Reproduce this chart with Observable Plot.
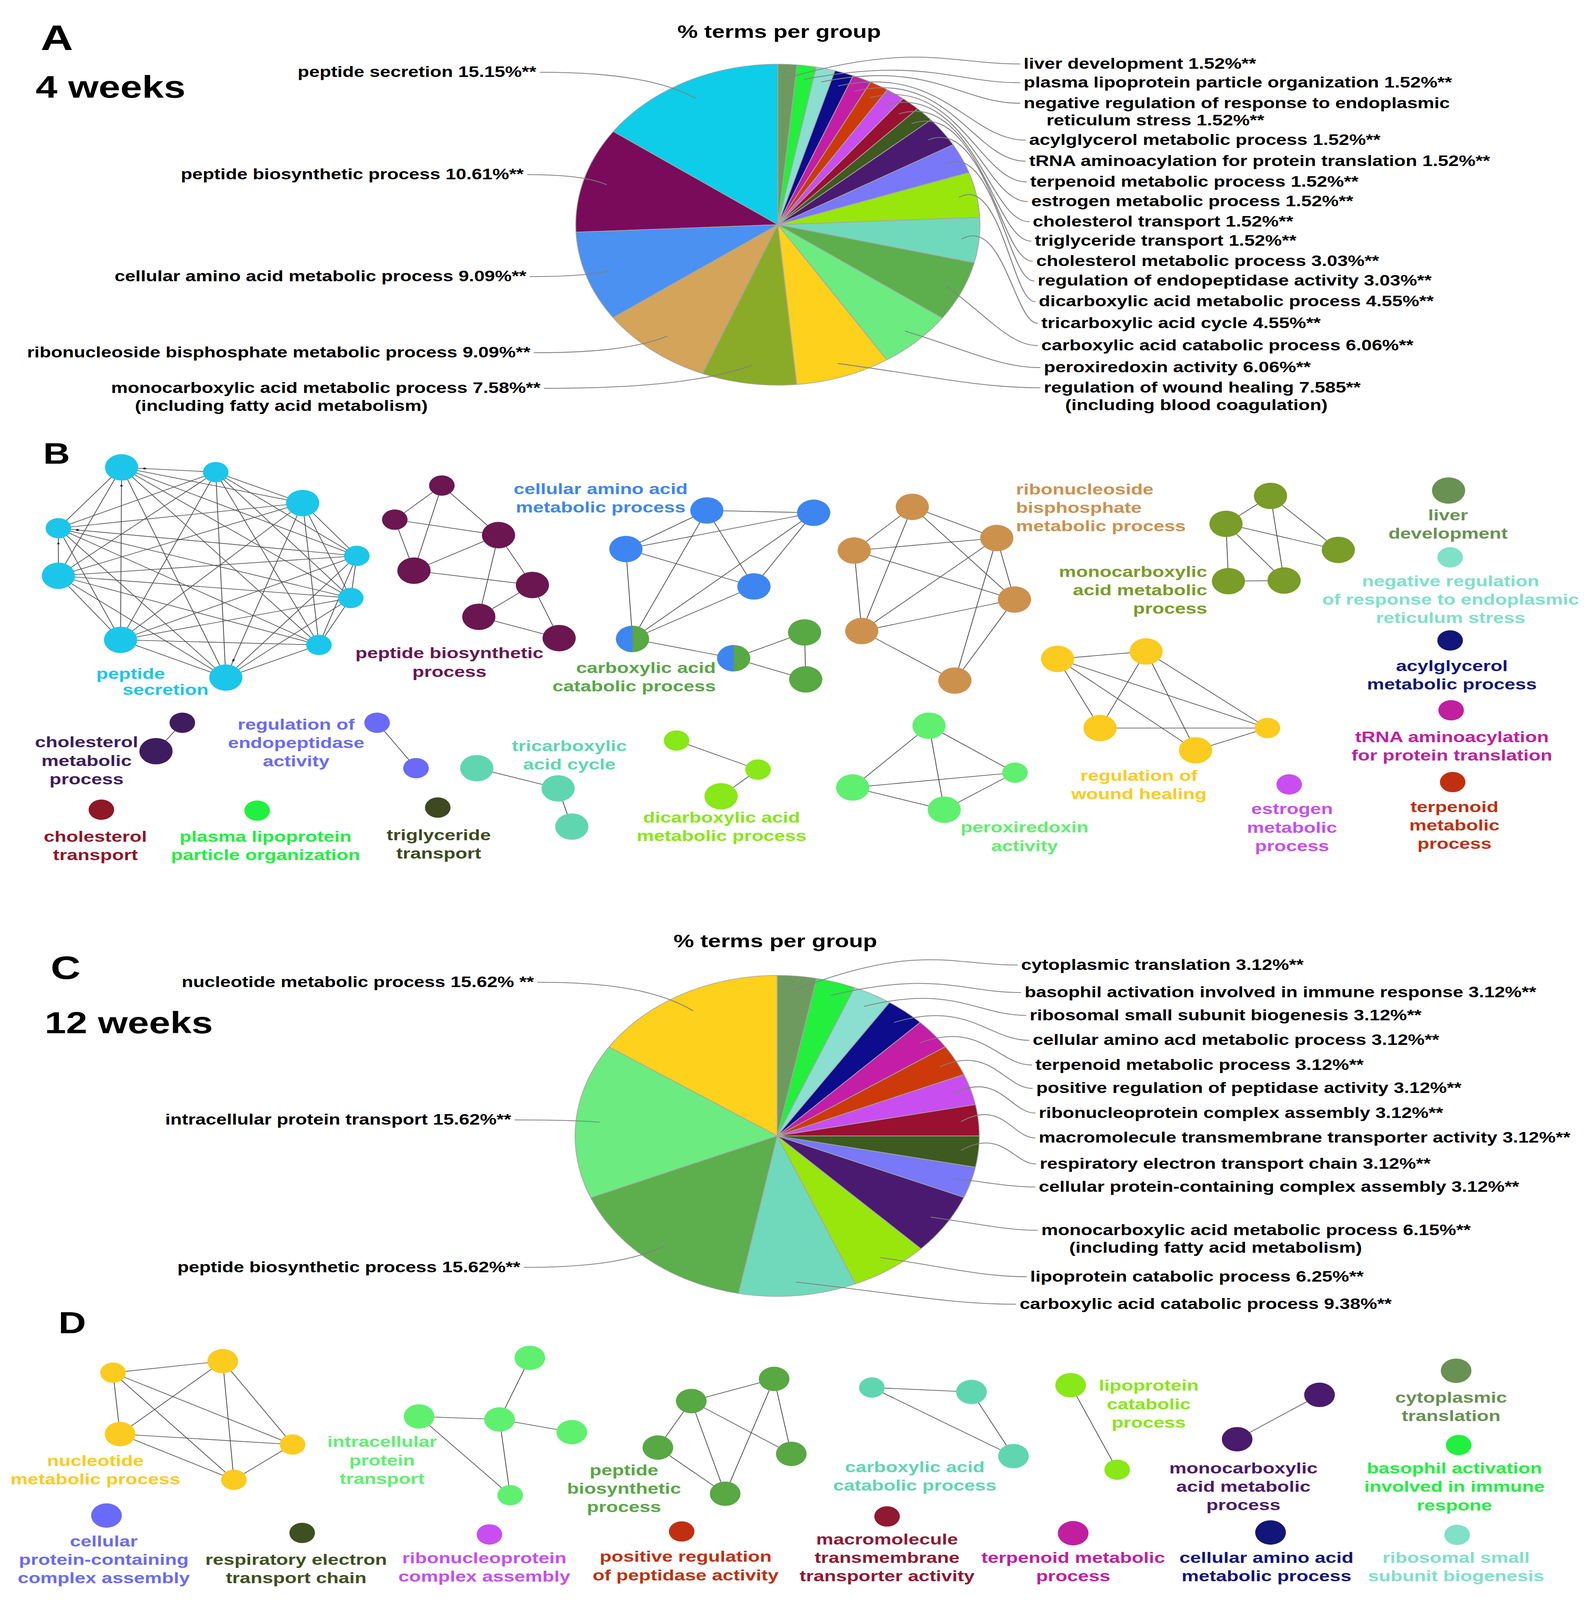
<!DOCTYPE html>
<html><head><meta charset="utf-8">
<script src="https://cdn.jsdelivr.net/npm/d3@7"></script>
<script src="https://cdn.jsdelivr.net/npm/@observablehq/plot@0.6"></script>
<style>
html,body{margin:0;padding:0;background:#fff;overflow:hidden;}
#chart svg{display:block;}
</style></head>
<body><div id="chart"></div>
<script>
// ================= DATA =================
// Panel A – 4 weeks: % terms per group (clockwise from 12 o'clock)
const weeks4Terms = [
  "liver development","plasma lipoprotein particle organization",
  "negative regulation of response to endoplasmic reticulum stress",
  "acylglycerol metabolic process","tRNA aminoacylation for protein translation",
  "terpenoid metabolic process","estrogen metabolic process","cholesterol transport",
  "triglyceride transport","cholesterol metabolic process","regulation of endopeptidase activity",
  "dicarboxylic acid metabolic process","tricarboxylic acid cycle","carboxylic acid catabolic process",
  "peroxiredoxin activity","regulation of wound healing","monocarboxylic acid metabolic process",
  "ribonucleoside bisphosphate metabolic process","cellular amino acid metabolic process",
  "peptide biosynthetic process","peptide secretion"];
const weeks4Percent = [1.52,1.52,1.52,1.52,1.52,1.52,1.52,1.52,1.52,3.03,3.03,4.55,4.55,6.06,6.06,7.585,7.58,9.09,9.09,10.61,15.15];
const weeks4Labels = [
  "liver development 1.52%**","plasma lipoprotein particle organization 1.52%**",
  "negative regulation of response to endoplasmic","acylglycerol metabolic process 1.52%**",
  "tRNA aminoacylation for protein translation 1.52%**","terpenoid metabolic process 1.52%**",
  "estrogen metabolic process 1.52%**","cholesterol transport 1.52%**","triglyceride transport 1.52%**",
  "cholesterol metabolic process 3.03%**","regulation of endopeptidase activity 3.03%**",
  "dicarboxylic acid metabolic process 4.55%**","tricarboxylic acid cycle 4.55%**",
  "carboxylic acid catabolic process 6.06%**","peroxiredoxin activity 6.06%**",
  "regulation of wound healing 7.585**","monocarboxylic acid metabolic process 7.58%**",
  "ribonucleoside bisphosphate metabolic process 9.09%**","cellular amino acid metabolic process 9.09%**",
  "peptide biosynthetic process 10.61%**","peptide secretion 15.15%**"];
const weeks4SecondLines = ["reticulum stress 1.52%**","(including blood coagulation)","(including fatty acid metabolism)"];

// Panel C – 12 weeks
const weeks12Terms = [
  "cytoplasmic translation","basophil activation involved in immune response",
  "ribosomal small subunit biogenesis","cellular amino acd metabolic process",
  "terpenoid metabolic process","positive regulation of peptidase activity",
  "ribonucleoprotein complex assembly","macromolecule transmembrane transporter activity",
  "respiratory electron transport chain","cellular protein-containing complex assembly",
  "monocarboxylic acid metabolic process","lipoprotein catabolic process",
  "carboxylic acid catabolic process","peptide biosynthetic process",
  "intracellular protein transport","nucleotide metabolic process"];
const weeks12Percent = [3.12,3.12,3.12,3.12,3.12,3.12,3.12,3.12,3.12,3.12,6.15,6.25,9.38,15.62,15.62,15.62];
const weeks12Labels = [
  "cytoplasmic translation 3.12%**","basophil activation involved in immune response 3.12%**",
  "ribosomal small subunit biogenesis 3.12%**","cellular amino acd metabolic process 3.12%**",
  "terpenoid metabolic process 3.12%**","positive regulation of peptidase activity 3.12%**",
  "ribonucleoprotein complex assembly 3.12%**","macromolecule transmembrane transporter activity 3.12%**",
  "respiratory electron transport chain 3.12%**","cellular protein-containing complex assembly 3.12%**",
  "monocarboxylic acid metabolic process 6.15%**","lipoprotein catabolic process 6.25%**",
  "carboxylic acid catabolic process 9.38%**","peptide biosynthetic process 15.62%**",
  "intracellular protein transport 15.62%**","nucleotide metabolic process 15.62% **"];
const weeks12SecondLines = ["(including fatty acid metabolism)"];

// Panel B – network of enriched terms (4 weeks)
const bNodes = [
  ["ps1","peptide secretion"],["ps2","peptide secretion"],["ps3","peptide secretion"],["ps4","peptide secretion"],["ps5","peptide secretion"],
  ["ps6","peptide secretion"],["ps7","peptide secretion"],["ps8","peptide secretion"],["ps9","peptide secretion"],["ps10","peptide secretion"],
  ["pb1","peptide biosynthetic process"],["pb2","peptide biosynthetic process"],["pb3","peptide biosynthetic process"],["pb4","peptide biosynthetic process"],
  ["pb5","peptide biosynthetic process"],["pb6","peptide biosynthetic process"],["pb7","peptide biosynthetic process"],
  ["ca1","cellular amino acid metabolic process"],["ca2","cellular amino acid metabolic process"],["ca3","cellular amino acid metabolic process"],["ca4","cellular amino acid metabolic process"],
  ["mx1","carboxylic acid catabolic process"],["mx2","carboxylic acid catabolic process"],
  ["cc1","carboxylic acid catabolic process"],["cc2","carboxylic acid catabolic process"],
  ["rb1","ribonucleoside bisphosphate metabolic process"],["rb2","ribonucleoside bisphosphate metabolic process"],["rb3","ribonucleoside bisphosphate metabolic process"],
  ["rb4","ribonucleoside bisphosphate metabolic process"],["rb5","ribonucleoside bisphosphate metabolic process"],["rb6","ribonucleoside bisphosphate metabolic process"],
  ["mc1","monocarboxylic acid metabolic process"],["mc2","monocarboxylic acid metabolic process"],["mc3","monocarboxylic acid metabolic process"],
  ["mc4","monocarboxylic acid metabolic process"],["mc5","monocarboxylic acid metabolic process"],
  ["ld1","liver development"],["nr1","negative regulation of response to endoplasmic reticulum stress"],
  ["ag1","acylglycerol metabolic process"],["tr1","tRNA aminoacylation for protein translation"],
  ["tp1","terpenoid metabolic process"],["es1","estrogen metabolic process"],
  ["wh1","regulation of wound healing"],["wh2","regulation of wound healing"],["wh3","regulation of wound healing"],["wh4","regulation of wound healing"],["wh5","regulation of wound healing"],
  ["px1","peroxiredoxin activity"],["px2","peroxiredoxin activity"],["px3","peroxiredoxin activity"],["px4","peroxiredoxin activity"],
  ["cm1","cholesterol metabolic process"],["cm2","cholesterol metabolic process"],
  ["re1","regulation of endopeptidase activity"],["re2","regulation of endopeptidase activity"],
  ["tc1","tricarboxylic acid cycle"],["tc2","tricarboxylic acid cycle"],["tc3","tricarboxylic acid cycle"],
  ["dc1","dicarboxylic acid metabolic process"],["dc2","dicarboxylic acid metabolic process"],["dc3","dicarboxylic acid metabolic process"],
  ["ct1","cholesterol transport"],["pl1","plasma lipoprotein particle organization"],["tg1","triglyceride transport"]];
const bSharedNodes = [["mx1","cellular amino acid metabolic process"],["mx2","cellular amino acid metabolic process"]];
const bEdges = [
  ["ps1","ps2"],["ps1","ps3"],["ps1","ps4"],["ps1","ps5"],["ps1","ps6"],["ps1","ps7"],["ps1","ps8"],["ps1","ps9"],["ps1","ps10"],
  ["ps2","ps3"],["ps2","ps4"],["ps2","ps5"],["ps2","ps6"],["ps2","ps7"],["ps2","ps8"],["ps2","ps9"],["ps2","ps10"],
  ["ps3","ps4"],["ps3","ps5"],["ps3","ps6"],["ps3","ps7"],["ps3","ps8"],["ps3","ps9"],["ps3","ps10"],
  ["ps4","ps5"],["ps4","ps6"],["ps4","ps7"],["ps4","ps8"],["ps4","ps9"],["ps4","ps10"],
  ["ps5","ps6"],["ps5","ps7"],["ps5","ps8"],["ps5","ps9"],["ps5","ps10"],
  ["ps6","ps7"],["ps6","ps8"],["ps6","ps9"],["ps6","ps10"],
  ["ps7","ps8"],["ps7","ps9"],["ps7","ps10"],["ps8","ps9"],["ps8","ps10"],["ps9","ps10"],
  ["pb1","pb2"],["pb1","pb4"],["pb1","pb3"],["pb2","pb3"],["pb2","pb4"],["pb3","pb4"],["pb3","pb5"],["pb3","pb6"],
  ["pb4","pb5"],["pb5","pb6"],["pb5","pb7"],["pb6","pb7"],
  ["ca1","ca2"],["ca1","ca3"],["ca1","ca4"],["ca1","mx1"],["ca3","ca2"],["ca3","ca4"],["ca3","mx1"],["ca4","mx1"],
  ["ca4","ca2"],["mx1","ca2"],["mx1","mx2"],["mx2","cc1"],["mx2","cc2"],["cc1","cc2"],
  ["rb1","rb3"],["rb1","rb2"],["rb1","rb4"],["rb1","rb5"],["rb3","rb2"],["rb3","rb4"],["rb3","rb5"],["rb2","rb5"],
  ["rb2","rb4"],["rb2","rb6"],["rb5","rb4"],["rb4","rb6"],["rb5","rb6"],
  ["mc1","mc2"],["mc1","mc3"],["mc1","mc5"],["mc2","mc3"],["mc2","mc4"],["mc2","mc5"],["mc4","mc5"],
  ["wh1","wh2"],["wh1","wh3"],["wh1","wh4"],["wh1","wh5"],["wh2","wh3"],["wh2","wh4"],["wh2","wh5"],["wh3","wh5"],["wh4","wh5"],
  ["px1","px3"],["px1","px2"],["px1","px4"],["px3","px2"],["px3","px4"],["px4","px2"],
  ["cm1","cm2"],["re1","re2"],["tc1","tc2"],["tc2","tc3"],["dc1","dc2"],["dc2","dc3"]];
const bArrowEdges = [["ps2","ps1","diamond"],["ps5","ps4","diamond"],["ps8","ps1","triangle"],["ps6","ps4","triangle"],["ps3","ps10","diamond"]];

// Panel D – network of enriched terms (12 weeks)
const dNodes = [
  ["nm1","nucleotide metabolic process"],["nm2","nucleotide metabolic process"],["nm3","nucleotide metabolic process"],["nm4","nucleotide metabolic process"],["nm5","nucleotide metabolic process"],
  ["ip1","intracellular protein transport"],["ip2","intracellular protein transport"],["ip3","intracellular protein transport"],["ip4","intracellular protein transport"],["ip5","intracellular protein transport"],
  ["bp1","peptide biosynthetic process"],["bp2","peptide biosynthetic process"],["bp3","peptide biosynthetic process"],["bp4","peptide biosynthetic process"],["bp5","peptide biosynthetic process"],
  ["kc1","carboxylic acid catabolic process"],["kc2","carboxylic acid catabolic process"],["kc3","carboxylic acid catabolic process"],
  ["lc1","lipoprotein catabolic process"],["lc2","lipoprotein catabolic process"],
  ["mo1","monocarboxylic acid metabolic process"],["mo2","monocarboxylic acid metabolic process"],
  ["cy1","cytoplasmic translation"],["ba1","basophil activation involved in immune response"],
  ["cp1","cellular protein-containing complex assembly"],["rs1","respiratory electron transport chain"],
  ["rp1","ribonucleoprotein complex assembly"],["pr1","positive regulation of peptidase activity"],
  ["mm1","macromolecule transmembrane transporter activity"],["te1","terpenoid metabolic process"],
  ["cd1","cellular amino acd metabolic process"],["rss1","ribosomal small subunit biogenesis"]];
const dEdges = [
  ["nm1","nm2"],["nm1","nm3"],["nm1","nm4"],["nm1","nm5"],["nm2","nm3"],["nm2","nm4"],["nm2","nm5"],["nm3","nm4"],["nm3","nm5"],["nm4","nm5"],
  ["ip1","ip3"],["ip2","ip3"],["ip3","ip4"],["ip3","ip5"],["ip2","ip5"],
  ["bp1","bp2"],["bp2","bp3"],["bp2","bp4"],["bp2","bp5"],["bp1","bp4"],["bp1","bp5"],["bp3","bp4"],
  ["kc1","kc2"],["kc1","kc3"],["kc2","kc3"],["lc1","lc2"],["mo1","mo2"]];

// ================= LAYOUT & STYLE (figure units: 1240 x 1575) =================
const FIG_W = 1240, FIG_H = 1575, PX_W = 4059, PX_H = 5155;
const FONT = "'Liberation Sans', Arial, Helvetica, sans-serif";
const PX = PX_W / FIG_W;

const colorA = ["#6e9a60","#22f03c","#8adfd0","#0c0c8c","#c41ea6","#cc3a0a","#c84ef0","#9a1030","#3e5a1e","#4a1a70",
  "#7878f8","#98e60c","#70d9bb","#5caf4c","#6ceb80","#fdd11c","#8aab28","#d3a45a","#4a91f2","#7a0b5a","#0dcde8"];
const colorC = ["#6e9a60","#22f03c","#8adfd0","#0c0c8c","#c41ea6","#cc3a0a","#c84ef0","#9a1030","#3e5a1e","#7878f8",
  "#4a1a70","#98e60c","#70d9bb","#5caf4c","#6ceb80","#fdd11c"];
const netColorB = {
  "peptide secretion":"#1cc6ea","peptide biosynthetic process":"#6b1650","cellular amino acid metabolic process":"#3d86f2",
  "carboxylic acid catabolic process":"#58a844","ribonucleoside bisphosphate metabolic process":"#cd914e",
  "monocarboxylic acid metabolic process":"#7a9c28","liver development":"#6a9154",
  "negative regulation of response to endoplasmic reticulum stress":"#80e0c8","acylglycerol metabolic process":"#121678",
  "tRNA aminoacylation for protein translation":"#c020a0","terpenoid metabolic process":"#c03010",
  "estrogen metabolic process":"#c84ef0","regulation of wound healing":"#fccb20","peroxiredoxin activity":"#60f070",
  "cholesterol metabolic process":"#3e1c60","regulation of endopeptidase activity":"#6a6af8",
  "tricarboxylic acid cycle":"#60d6b0","dicarboxylic acid metabolic process":"#88e818","cholesterol transport":"#8e1828",
  "plasma lipoprotein particle organization":"#22f040","triglyceride transport":"#3c4a20"};
const netColorD = {
  "nucleotide metabolic process":"#fccb20","intracellular protein transport":"#60f070","peptide biosynthetic process":"#58a844",
  "carboxylic acid catabolic process":"#60d6b0","lipoprotein catabolic process":"#88e818",
  "monocarboxylic acid metabolic process":"#4a1a6c","cytoplasmic translation":"#6a9154",
  "basophil activation involved in immune response":"#22f040","cellular protein-containing complex assembly":"#6a6af8",
  "respiratory electron transport chain":"#3e5020","ribonucleoprotein complex assembly":"#c84ef0",
  "positive regulation of peptidase activity":"#c03010","macromolecule transmembrane transporter activity":"#901830",
  "terpenoid metabolic process":"#c020a0","cellular amino acd metabolic process":"#121678",
  "ribosomal small subunit biogenesis":"#80e0c8"};

const pieA = {cx: 608, cy: 221, r: 158};
const pieC = {cx: 607.5, cy: 1118, r: 158};
const labelPosA = [[800.2,62.8,"start"],[800.2,81.3,"start"],[800.2,101.5,"start"],[804.5,137.8,"start"],[804.5,158.5,"start"],
  [805.3,178.9,"start"],[806.1,198.2,"start"],[807.3,218.1,"start"],[808.9,237.2,"start"],[810,257,"start"],[811.2,276.4,"start"],
  [812,296.8,"start"],[814,318,"start"],[814,340,"start"],[816,361.7,"start"],[816,381.6,"start"],
  [422.4,382.1,"end"],[414.5,347.1,"end"],[411.3,272.1,"end"],[409.3,171.7,"end"],[419.2,71,"end"]];
const secondPosA = [[818,118.7,"start"],[832.6,398.8,"start"],[219.8,399.6,"middle"]];
const labelPosC = [[798.2,949.8,"start"],[800.9,976.9,"start"],[804.9,999.4,"start"],[807.3,1023.9,"start"],[809.3,1048.2,"start"],
  [810,1071.2,"start"],[812,1095.5,"start"],[812,1120,"start"],[812.8,1145.6,"start"],[812,1168.3,"start"],[814,1210.9,"start"],
  [805.3,1256.6,"start"],[797,1283.7,"start"],[406.6,1247.4,"end"],[399.5,1102.3,"end"],[417.3,966.7,"end"]];
const secondPosC = [[835.8,1228.4,"start"]];

const nodeLayout = {
  ps1:[94.9,459.9,13],ps2:[168.5,464.6,10],ps3:[236.5,495,13],ps4:[45.5,519.8,10],ps5:[278.8,547,10],
  ps6:[45.5,566.6,13],ps7:[274.1,588.5,10],ps8:[94.1,629.7,13],ps9:[249.2,634.7,10],ps10:[176.4,666.8,13],
  pb1:[345.3,477.8,10],pb2:[308.5,511.4,10],pb3:[389.6,526.6,13],pb4:[323.5,561.6,13],pb5:[416.1,575.7,13],pb6:[374.2,607,13],pb7:[437,628,13],
  ca1:[552.5,502.3,13],ca2:[636,504.6,13],ca3:[489.2,540.3,13],ca4:[589.3,577.1,13],
  mx1:[494.4,628.8,13],mx2:[573.5,647.8,13],cc1:[628.9,622.4,13],cc2:[629.8,668.6,13],
  rb1:[713.1,498.8,13],rb2:[779.2,529.5,13],rb3:[667.7,541.8,13],rb4:[793,590,13],rb5:[673.6,621,13],rb6:[746.4,669.8,13],
  mc1:[993.2,488,13],mc2:[958.4,515.5,13],mc3:[1046.2,541.2,13],mc4:[960.3,571.9,13],mc5:[1003.8,571.3,13],
  ld1:[1132.4,482.7,13],nr1:[1133.6,548.5,10],ag1:[1133.6,630.3,10],tr1:[1134.4,699,10],tp1:[1135.6,769.7,10],es1:[1007.8,772,10],
  wh1:[826.7,648.4,13],wh2:[895.9,641.1,13],wh3:[859.9,716.5,13],wh4:[934.6,738.4,13],wh5:[990.8,716.5,10],
  px1:[726.2,714.2,13],px2:[793.4,760.4,10],px3:[666.5,775,13],px4:[738.1,796.9,13],
  cm1:[142.4,711.3,10],cm2:[121.8,739.3,13],re1:[294.7,711.3,10],re2:[325.1,756,10],
  tc1:[372.6,756,13],tc2:[436.2,775.9,13],tc3:[446.9,813.5,13],
  dc1:[528.8,728.8,10],dc2:[592.5,757.4,10],dc3:[563.6,783.7,13],
  ct1:[79.1,796.9,10],pl1:[200.9,797.8,10],tg1:[342.1,794.8,10],
  nm1:[88.2,1351.1,10],nm2:[174,1339.7,12],nm3:[93.7,1411.5,12],nm4:[228.6,1421.8,10],nm5:[182.7,1456.5,10],
  ip1:[414.1,1336.5,12],ip2:[327.5,1394.2,12],ip3:[390.4,1397.1,12],ip4:[446.9,1409.6,12],ip5:[398.7,1471.7,10],
  bp1:[605.1,1357.2,12],bp2:[540.3,1379,12],bp3:[514.2,1424.8,12],bp4:[566.8,1470.2,12],bp5:[618.5,1431,12],
  kc1:[681.5,1365.7,10],kc2:[759.4,1370.1,12],kc3:[792.2,1433.2,12],
  lc1:[836.9,1363.4,12],lc2:[873.3,1446.6,10],mo1:[1031.5,1372.9,12],mo2:[967.1,1416.6,12],
  cy1:[1138.3,1349.2,12],ba1:[1140.3,1422.3,10],cp1:[83.1,1491.7,12],rs1:[236.1,1508.8,10],
  rp1:[382.5,1510.3,10],pr1:[532.8,1507.4,10],mm1:[693.4,1492.6,10],te1:[838.9,1509.1,12],
  cd1:[993.2,1508.4,12],rss1:[1139.1,1510.7,10]};

// network labels: [text, group, x, y, anchor]
const bLabels = [
  ["peptide","peptide secretion",102,662.5,"middle"],["secretion","peptide secretion",129.3,678.2,"middle"],
  ["peptide biosynthetic\nprocess","peptide biosynthetic process",351.2,651.2,"middle"],
  ["cellular amino acid\nmetabolic process","cellular amino acid metabolic process",469.5,489.6,"middle"],
  ["carboxylic acid\ncatabolic process","carboxylic acid catabolic process",559.5,665.5,"end"],
  ["ribonucleoside\nbisphosphate\nmetabolic process","ribonucleoside bisphosphate metabolic process",794.2,498.8,"start"],
  ["monocarboxylic\nacid metabolic\nprocess","monocarboxylic acid metabolic process",943.7,580,"end"],
  ["liver\ndevelopment","liver development",1132,515.3,"middle"],
  ["negative regulation\nof response to endoplasmic\nreticulum stress","negative regulation of response to endoplasmic reticulum stress",1134,589.3,"middle"],
  ["acylglycerol\nmetabolic process","acylglycerol metabolic process",1135,663.6,"middle"],
  ["tRNA aminoacylation\nfor protein translation","tRNA aminoacylation for protein translation",1135,733.6,"middle"],
  ["terpenoid\nmetabolic\nprocess","terpenoid metabolic process",1137,811.5,"middle"],
  ["estrogen\nmetabolic\nprocess","estrogen metabolic process",1010,813.7,"middle"],
  ["regulation of\nwound healing","regulation of wound healing",890.3,771.6,"middle"],
  ["peroxiredoxin\nactivity","peroxiredoxin activity",800.9,822.7,"middle"],
  ["cholesterol\nmetabolic\nprocess","cholesterol metabolic process",67.5,747.9,"middle"],
  ["regulation of\nendopeptidase\nactivity","regulation of endopeptidase activity",231.4,730.5,"middle"],
  ["tricarboxylic\nacid cycle","tricarboxylic acid cycle",445,742.5,"middle"],
  ["dicarboxylic acid\nmetabolic process","dicarboxylic acid metabolic process",564,813,"middle"],
  ["cholesterol\ntransport","cholesterol transport",74.4,831.7,"middle"],
  ["plasma lipoprotein\nparticle organization","plasma lipoprotein particle organization",207.5,831.7,"middle"],
  ["triglyceride\ntransport","triglyceride transport",342.9,830.1,"middle"]];
const dLabels = [
  ["nucleotide\nmetabolic process","nucleotide metabolic process",74.4,1446.1,"middle"],
  ["intracellular\nprotein\ntransport","intracellular protein transport",298.6,1436.6,"middle"],
  ["peptide\nbiosynthetic\nprocess","peptide biosynthetic process",487.7,1464.5,"middle"],
  ["carboxylic acid\ncatabolic process","carboxylic acid catabolic process",715.1,1452.2,"middle"],
  ["lipoprotein\ncatabolic\nprocess","lipoprotein catabolic process",898,1381.2,"middle"],
  ["monocarboxylic\nacid metabolic\nprocess","monocarboxylic acid metabolic process",972,1462.5,"middle"],
  ["cytoplasmic\ntranslation","cytoplasmic translation",1134.4,1383.9,"middle"],
  ["basophil activation\ninvolved in immune\nrespone","basophil activation involved in immune response",1137,1462.7,"middle"],
  ["cellular\nprotein-containing\ncomplex assembly","cellular protein-containing complex assembly",81,1534.4,"middle"],
  ["respiratory electron\ntransport chain","respiratory electron transport chain",231.4,1543.5,"middle"],
  ["ribonucleoprotein\ncomplex assembly","ribonucleoprotein complex assembly",378.5,1541.8,"middle"],
  ["positive regulation\nof peptidase activity","positive regulation of peptidase activity",535.9,1540.6,"middle"],
  ["macromolecule\ntransmembrane\ntransporter activity","macromolecule transmembrane transporter activity",693.4,1532.5,"middle"],
  ["terpenoid metabolic\nprocess","terpenoid metabolic process",838.9,1541.4,"middle"],
  ["cellular amino acid\nmetabolic process","cellular amino acd metabolic process",990,1541.4,"middle"],
  ["ribosomal small\nsubunit biogenesis","ribosomal small subunit biogenesis",1138.3,1541.4,"middle"]];

// headings: [text, x, y, anchor, fontPx]
const headings = [
  ["A",31.6,49,"start",115],["4 weeks",27.7,95.9,"start",100],["% terms per group",609,37,"middle",59],
  ["B",33.6,456.4,"start",95],["C",39.5,963.4,"start",106],["12 weeks",34.8,1016.9,"start",98],
  ["% terms per group",606,932.5,"middle",59],["D",45.5,1312.1,"start",98]];

// ================= BUILD =================
function pieBuild(terms, values, colors, pos, layout, key) {
  const arcs = d3.pie().sort(null).value(d => d)(values);
  const poly = [], leaders = [];
  arcs.forEach((a, i) => {
    const k = key + i, n = Math.max(3, Math.ceil((a.endAngle - a.startAngle) / (Math.PI / 360)));
    poly.push({k, x: layout.cx, y: layout.cy, color: colors[i], term: terms[i]});
    for (let j = 0; j <= n; j++) {
      const t = a.startAngle + (a.endAngle - a.startAngle) * j / n;
      poly.push({k, x: layout.cx + layout.r * Math.sin(t), y: layout.cy - layout.r * Math.cos(t), color: colors[i], term: terms[i]});
    }
    poly.push({k, x: layout.cx, y: layout.cy, color: colors[i], term: terms[i]});
    const [lx, ly, side] = pos[i];
    const mid = (a.startAngle + a.endAngle) / 2;
    const rr = layout.r * (side === "end" ? 0.885 : 0.915);
    const E = [layout.cx + rr * Math.sin(mid), layout.cy - rr * Math.cos(mid)];
    let A, C1, C2;
    if (side === "end") {
      A = [lx + 3, ly];
      const dx = E[0] - A[0], dy = E[1] - A[1];
      C1 = [A[0] + 0.5 * dx, A[1]];
      C2 = [A[0] + 0.8 * dx, A[1] + 0.35 * dy];
    } else {
      A = [lx - 3, ly];
      const dx = A[0] - E[0];
      C1 = [A[0] - 0.3 * dx, A[1]];
      C2 = E[1] > layout.cy + 30 ? [E[0] + 0.45 * dx, E[1] + 0.5 * (A[1] - E[1])]
                                 : [E[0] + 0.55 * dx, Math.min(E[1], A[1]) - 22];
    }
    [A, C1, C2, E].forEach(p => leaders.push({k, x: p[0], y: p[1]}));
  });
  return {poly, leaders};
}
const A = pieBuild(weeks4Terms, weeks4Percent, colorA, labelPosA, pieA, "a");
const C = pieBuild(weeks12Terms, weeks12Percent, colorC, labelPosC, pieC, "c");

const pieText = [
  ...weeks4Labels.map((t, i) => ({text: t, x: labelPosA[i][0], y: labelPosA[i][1], anchor: labelPosA[i][2]})),
  ...weeks4SecondLines.map((t, i) => ({text: t, x: secondPosA[i][0], y: secondPosA[i][1], anchor: secondPosA[i][2]})),
  ...weeks12Labels.map((t, i) => ({text: t, x: labelPosC[i][0], y: labelPosC[i][1], anchor: labelPosC[i][2]})),
  ...weeks12SecondLines.map((t, i) => ({text: t, x: secondPosC[i][0], y: secondPosC[i][1], anchor: secondPosC[i][2]}))];

const nodeRows = [
  ...bNodes.map(([id, g]) => ({id, x: nodeLayout[id][0], y: nodeLayout[id][1], size: nodeLayout[id][2], color: netColorB[g]})),
  ...dNodes.map(([id, g]) => ({id, x: nodeLayout[id][0], y: nodeLayout[id][1], size: nodeLayout[id][2], color: netColorD[g]}))];
const sharedRows = bSharedNodes.map(([id, g]) => ({id, x: nodeLayout[id][0], y: nodeLayout[id][1], size: nodeLayout[id][2], color: netColorB[g]}));
const edgeRows = [...bEdges, ...dEdges].map(([s, t]) => ({x1: nodeLayout[s][0], y1: nodeLayout[s][1], x2: nodeLayout[t][0], y2: nodeLayout[t][1]}));
const arrowRows = bArrowEdges.map(([s, t, shape]) => {
  const [sx, sy] = nodeLayout[s], [tx, ty, tr] = nodeLayout[t];
  const dx = tx - sx, dy = ty - sy, L = Math.hypot(dx, dy);
  return {x: tx - dx / L * (tr + 5), y: ty - dy / L * (tr + 5), shape, rot: Math.atan2(dx, -dy) * 180 / Math.PI};
});
const netLabelRows = [
  ...bLabels.map(([text, g, x, y, anchor]) => ({text, x, y, anchor, color: netColorB[g]})),
  ...dLabels.map(([text, g, x, y, anchor]) => ({text, x, y, anchor, color: netColorD[g]}))];
const headingRows = headings.map(([text, x, y, anchor, size]) => ({text, x, y, anchor, size}));

// custom cubic Bézier curve for leader lines
function bezierCurve(context) {
  let pts;
  return {
    areaStart() {}, areaEnd() {},
    lineStart() { pts = []; },
    point(x, y) { pts.push([+x, +y]); },
    lineEnd() {
      if (!pts.length) return;
      context.moveTo(pts[0][0], pts[0][1]);
      if (pts.length === 4) context.bezierCurveTo(pts[1][0], pts[1][1], pts[2][0], pts[2][1], pts[3][0], pts[3][1]);
      else for (let i = 1; i < pts.length; i++) context.lineTo(pts[i][0], pts[i][1]);
    }
  };
}
const halfLeft = {draw(context, size) {
  const r = Math.sqrt(size / Math.PI);
  context.moveTo(0, -r); context.arc(0, 0, r, -Math.PI / 2, Math.PI / 2, true); context.closePath();
}};

const textMarks = (rows, opts) => ["start", "middle", "end"].map(anchor =>
  Plot.text(rows.filter(d => d.anchor === anchor), {x: "x", y: "y", text: "text", textAnchor: anchor, ...opts}));

const plot = Plot.plot({
  width: PX_W, height: PX_H, margin: 0,
  x: {domain: [0, FIG_W], range: [0, PX_W], axis: null},
  y: {domain: [0, FIG_H], range: [0, PX_H], axis: null},
  r: {type: "linear", domain: [0, 10], range: [0, 10 * PX]},
  color: {type: "identity"},
  style: {fontFamily: FONT, background: "#ffffff"},
  marks: [
    // pies
    Plot.line([...A.poly, ...C.poly], {x: "x", y: "y", z: "k", fill: "color", stroke: "none", curve: "linear"}),
    Plot.line([...A.poly, ...C.poly], {x: "x", y: "y", z: "k", fill: "none", stroke: "#a6a6a6", strokeWidth: 2, curve: "linear"}),
    Plot.line([...A.leaders, ...C.leaders], {x: "x", y: "y", z: "k", stroke: "#808080", strokeWidth: 2.6, curve: bezierCurve}),
    ...textMarks(pieText, {fontSize: 48, fontWeight: "bold", fill: "#000"}),
    // networks
    Plot.link(edgeRows, {x1: "x1", y1: "y1", x2: "x2", y2: "y2", stroke: "#4a4a4a", strokeWidth: 2}),
    Plot.dot(nodeRows, {x: "x", y: "y", r: "size", fill: "color", stroke: "none"}),
    Plot.dot(sharedRows, {x: "x", y: "y", r: "size", fill: "color", symbol: halfLeft, stroke: "none"}),
    Plot.dot(arrowRows.filter(d => d.shape === "diamond"), {x: "x", y: "y", r: 3.4, symbol: "diamond", rotate: "rot", fill: "#000", stroke: "none"}),
    Plot.dot(arrowRows.filter(d => d.shape === "triangle"), {x: "x", y: "y", r: 2.8, symbol: "triangle", rotate: "rot", fill: "#000", stroke: "none"}),
    ...textMarks(netLabelRows, {fontSize: 49.5, fontWeight: "bold", fill: "color", lineHeight: 1.2}),
    // headings
    ...["start", "middle"].map(anchor => Plot.text(headingRows.filter(d => d.anchor === anchor),
      {x: "x", y: "y", text: "text", textAnchor: anchor, lineAnchor: "bottom", fontSize: d => d.size, fontWeight: "bold", fill: "#000"}))
  ]
});
// The browser's visible area may be shorter than the figure; fit the whole figure into it.
const availH = Math.min(PX_H, window.innerHeight || PX_H);
plot.setAttribute("preserveAspectRatio", "none");
plot.setAttribute("height", availH);
plot.style.height = availH + "px";
plot.style.width = PX_W + "px";
plot.style.maxWidth = "none";
document.getElementById("chart").append(plot);
</script>
</body></html>
